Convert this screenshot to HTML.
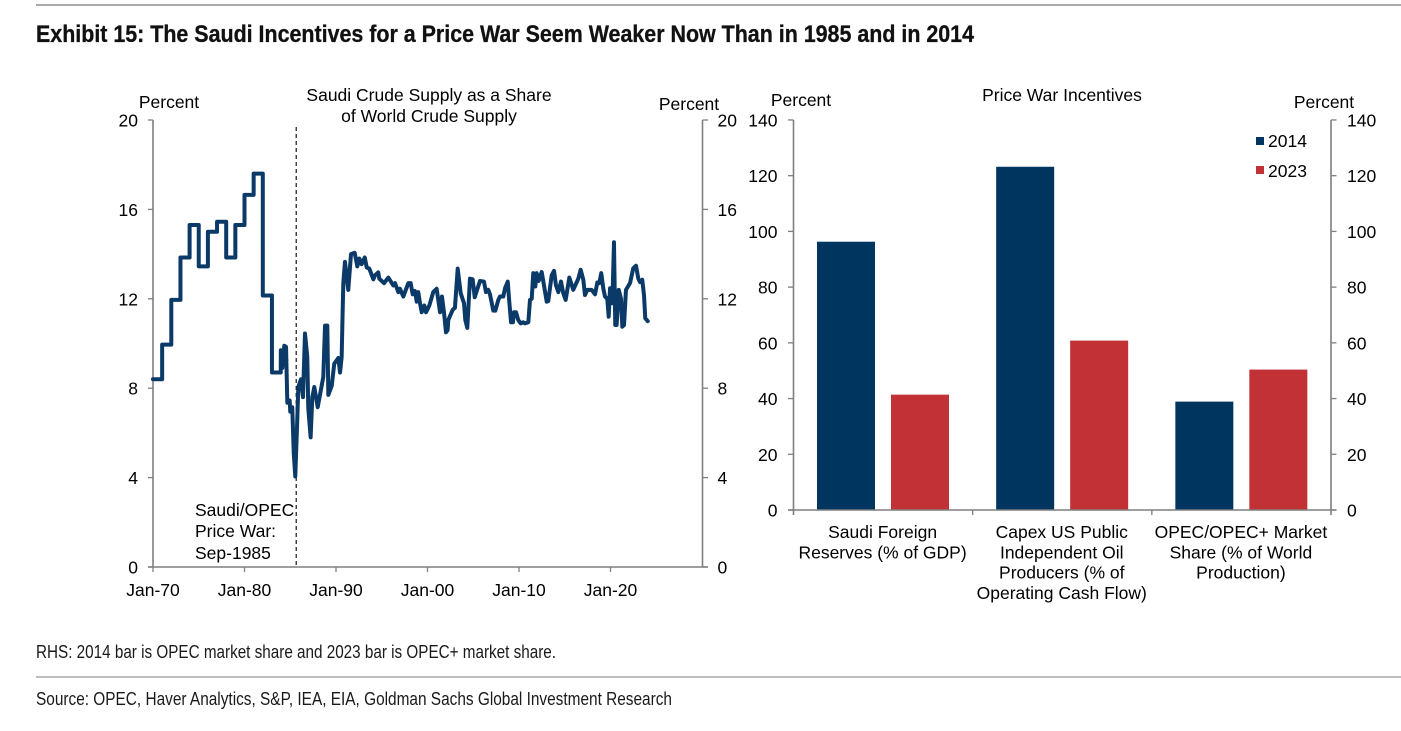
<!DOCTYPE html>
<html lang="en">
<head>
<meta charset="utf-8">
<title>Exhibit 15</title>
<style>
html,body{margin:0;padding:0;background:#fff;}
svg{display:block;}
text{font-family:"Liberation Sans",Arial,sans-serif;fill:#000;font-size:17.5px;}
.note{font-size:18px;fill:#1a1a1a;}
.title{font-size:24px;font-weight:bold;fill:#111;stroke:#111;stroke-width:0.3px;}
</style>
</head>
<body>
<svg id="page" xmlns="http://www.w3.org/2000/svg" width="1401" height="731" viewBox="0 0 1401 731">
  <rect x="36" y="4" width="1365" height="2" fill="#a9a9a9"/>
  <text class="title" x="36" y="42" textLength="938" lengthAdjust="spacingAndGlyphs">Exhibit 15: The Saudi Incentives for a Price War Seem Weaker Now Than in 1985 and in 2014</text>

  <g id="line-chart">
    <text x="169" y="108" text-anchor="middle">Percent</text>
    <text x="689" y="110" text-anchor="middle">Percent</text>
    <text x="429" y="101" text-anchor="middle">Saudi Crude Supply as a Share</text>
    <text x="429" y="122" text-anchor="middle">of World Crude Supply</text>
    <text x="195" y="516">Saudi/OPEC</text>
    <text x="195" y="537">Price War:</text>
    <text x="195" y="559">Sep-1985</text>
  </g>

  <g id="bar-chart">
    <text x="801" y="106" text-anchor="middle">Percent</text>
    <text x="1324" y="108" text-anchor="middle">Percent</text>
    <text x="1062" y="101" text-anchor="middle">Price War Incentives</text>
    <rect x="1256" y="137" width="8" height="8" fill="#003560"/>
    <text x="1268" y="147">2014</text>
    <rect x="1256" y="166" width="8" height="8" fill="#c23135"/>
    <text x="1268" y="177">2023</text>
  </g>

  <text class="note" x="36" y="658" textLength="520" lengthAdjust="spacingAndGlyphs">RHS: 2014 bar is OPEC market share and 2023 bar is OPEC+ market share.</text>
  <rect x="36" y="676" width="1365" height="2" fill="#bdbdbd"/>
  <text class="note" x="36" y="705" textLength="636" lengthAdjust="spacingAndGlyphs">Source: OPEC, Haver Analytics, S&amp;P, IEA, EIA, Goldman Sachs Global Investment Research</text>
</svg>
<script>
// ---- line chart data ----
const stepYears = [1970,1971,1972,1973,1974,1975,1976,1977,1978,1979,1980,1981,1982,1983];
const stepValues = [8.4,9.95,11.95,13.85,15.3,13.45,15.0,15.45,13.85,15.3,16.65,17.6,12.15,8.7];
const detailYears = [
1983.96,1983.97,1984.13,1984.35,1984.54,1984.68,1984.94,1985.0,1985.22,1985.38,
1985.55,1985.74,1985.88,1986.17,1986.39,1986.61,1986.86,1986.97,1987.23,1987.41,
1987.63,1988.0,1988.61,1988.8,1989.05,1989.16,1989.53,1989.81,1990.25,1990.44,
1990.62,1990.73,1990.8,1990.98,1991.34,1991.64,1992.04,1992.33,1992.55,1992.81,
1993.14,1993.36,1993.64,1994.08,1994.26,1994.62,1994.73,1995.25,1995.72,1996.26,
1996.45,1996.81,1996.99,1997.36,1997.9,1998.16,1998.38,1998.63,1998.82,1998.99,
1999.18,1999.37,1999.65,1999.84,2000.2,2000.63,2001.0,2001.37,2001.58,2001.8,
2002.02,2002.2,2002.27,2002.75,2003.0,2003.3,2003.63,2003.99,2004.13,2004.35,
2004.64,2004.94,2005.16,2005.74,2006.17,2006.39,2006.64,2006.83,2007.19,2007.41,
2007.74,2007.92,2008.28,2008.47,2008.77,2008.91,2009.13,2009.34,2009.45,2009.67,
2009.92,2010.19,2010.47,2010.66,2011.02,2011.2,2011.39,2011.56,2011.78,2011.93,
2012.15,2012.48,2012.73,2013.03,2013.2,2013.57,2013.83,2014.04,2014.3,2014.59,
2014.84,2015.1,2015.5,2015.93,2016.48,2016.74,2017.03,2017.21,2017.46,2017.94,
2018.31,2018.56,2018.77,2018.99,2019.21,2019.4,2019.65,2019.8,2019.95,2020.2,
2020.38,2020.52,2020.67,2020.9,2021.15,2021.29,2021.48,2021.69,2022.13,2022.49,
2022.79,2023.04,2023.22,2023.47,2023.66,2023.8,2024.07];
const detailValues = [
8.72,9.7,8.9,9.9,9.85,7.35,7.45,6.95,7.15,5.1,
4.05,6.25,8.05,8.4,7.6,10.45,9.4,7.1,5.8,7.6,
8.05,7.15,8.5,10.8,10.8,7.7,8.1,9.1,9.35,8.7,
9.4,11.5,12.7,13.65,12.4,14.0,14.06,13.45,13.8,13.55,
13.85,13.4,13.35,12.87,13.05,13.18,12.9,12.7,12.95,12.6,
12.7,12.3,12.45,12.1,12.7,12.7,12.2,12.35,11.87,12.3,
11.8,11.4,11.7,11.4,11.7,12.3,12.45,11.4,12.1,11.4,
10.5,10.6,11.05,11.5,11.6,13.35,12.25,11.8,11.05,10.7,
12.9,12.87,12.07,12.8,12.77,12.3,12.4,12.2,11.47,11.47,
11.95,12.1,12.1,12.47,12.77,12.0,10.95,10.95,11.4,11.4,
11.05,10.9,10.95,10.9,10.95,11.95,12.0,13.15,12.55,13.15,
12.8,13.2,12.6,11.87,11.9,13.05,13.25,12.6,12.3,12.77,
12.25,11.95,12.95,12.4,12.9,13.3,12.85,12.17,12.4,12.4,
12.2,12.73,12.7,13.15,12.47,12.1,12.0,11.2,12.47,11.8,
14.53,10.83,10.83,12.4,12.0,10.75,10.83,12.4,12.7,13.37,
13.48,12.9,12.75,12.85,12.17,11.13,11.0];
const lineYTicks = [0,4,8,12,16,20];
const lineXTickYears = [1970,1980,1990,2000,2010,2020];
const lineXTickLabels = ['Jan-70','Jan-80','Jan-90','Jan-00','Jan-10','Jan-20'];
const priceWarYear = 1985.65;

// ---- bar chart data ----
const barCategories = [
  ['Saudi Foreign','Reserves (% of GDP)'],
  ['Capex US Public','Independent Oil','Producers (% of','Operating Cash Flow)'],
  ['OPEC/OPEC+ Market','Share (% of World','Production)']
];
const values2014 = [96.3,123.2,38.9];
const values2023 = [41.4,60.8,50.4];
const barYTicks = [0,20,40,60,80,100,120,140];

const NS = 'http://www.w3.org/2000/svg';
function mk(parent, tag, attrs, txt){
  const e = document.createElementNS(NS, tag);
  for (const k in attrs) e.setAttribute(k, attrs[k]);
  if (txt !== undefined) e.textContent = txt;
  parent.appendChild(e);
  return e;
}
const AXIS = '#7f7f7f';

// ---- line chart ----
const lg = document.getElementById('line-chart');
const xL = y => 153 + (y - 1970) * 9.15;
const yL = v => 567 - v * 22.35;
const lineRight = 702.5;

const lAxisL = mk(lg,'line',{x1:153,x2:153,y1:yL(20),y2:yL(0),stroke:AXIS,'stroke-width':1.6});


const lAxisR = mk(lg,'line',{x1:lineRight,x2:lineRight,y1:yL(20),y2:yL(0),stroke:AXIS,'stroke-width':1.6});


const lAxisX = mk(lg,'line',{x1:148,x2:lineRight+5.5,y1:yL(0),y2:yL(0),stroke:AXIS,'stroke-width':1.6});



lineYTicks.forEach(v => {
  const t1 = mk(lg,'line',{x1:148,x2:153,y1:yL(v),y2:yL(v),stroke:AXIS,'stroke-width':1.3});
  
  
  const t2 = mk(lg,'line',{x1:lineRight,x2:lineRight+5.5,y1:yL(v),y2:yL(v),stroke:AXIS,'stroke-width':1.3});
  
  
  const l1 = mk(lg,'text',{x:138,y:yL(v)+6.5,'text-anchor':'end'},String(v));
  
  
  const l2 = mk(lg,'text',{x:717.5,y:yL(v)+6.5},String(v));
  
  
});
lineXTickYears.forEach((yr,i) => {
  const t = mk(lg,'line',{x1:xL(yr),x2:xL(yr),y1:yL(0),y2:yL(0)+5,stroke:AXIS,'stroke-width':1.3});
  
  
  const l = mk(lg,'text',{x:xL(yr),y:596,'text-anchor':'middle'},lineXTickLabels[i]);
  
  
});

const dash = mk(lg,'line',{x1:xL(priceWarYear),x2:xL(priceWarYear),y1:127,y2:yL(0),stroke:'#000','stroke-width':1.1,'stroke-dasharray':'4 3'});



let pts = [];
stepYears.forEach((yr,i) => {
  pts.push([xL(yr), yL(stepValues[i])]);
  const nextYear = i + 1 < stepYears.length ? stepYears[i+1] : detailYears[0];
  pts.push([xL(nextYear), yL(stepValues[i])]);
});
detailYears.forEach((yr,i) => pts.push([xL(yr), yL(detailValues[i])]));
const linePath = mk(lg,'polyline',{points:pts.map(p=>p[0].toFixed(2)+','+p[1].toFixed(2)).join(' '),fill:'none',stroke:'#0b3a68','stroke-width':4,'stroke-linejoin':'round','stroke-linecap':'round'});



// ---- bar chart ----
const bg = document.getElementById('bar-chart');
const barLeft = 793.5, barRight = 1331;
const yB = v => 510 - v * 2.786;
const catW = (barRight - barLeft) / barCategories.length;
const barW = 58, barOffA = 23.5, barOffB = 97.5;

const bAxisL = mk(bg,'line',{x1:barLeft,x2:barLeft,y1:yB(140),y2:yB(0)+5,stroke:AXIS,'stroke-width':1.6});


const bAxisR = mk(bg,'line',{x1:barRight,x2:barRight,y1:yB(140),y2:yB(0)+5,stroke:AXIS,'stroke-width':1.6});



barYTicks.forEach(v => {
  const t1 = mk(bg,'line',{x1:barLeft-5.5,x2:barLeft,y1:yB(v),y2:yB(v),stroke:AXIS,'stroke-width':1.3});
  
  
  const t2 = mk(bg,'line',{x1:barRight,x2:barRight+5.5,y1:yB(v),y2:yB(v),stroke:AXIS,'stroke-width':1.3});
  
  
  const l1 = mk(bg,'text',{x:777.5,y:yB(v)+6.5,'text-anchor':'end'},String(v));
  
  
  const l2 = mk(bg,'text',{x:1347,y:yB(v)+6.5},String(v));
  
  
});

barCategories.forEach((lines,i) => {
  const x0 = barLeft + i * catW;
  const a = mk(bg,'rect',{x:x0+barOffA,y:yB(values2014[i]),width:barW,height:yB(0)-yB(values2014[i]),fill:'#003560'});
  
  
  const b = mk(bg,'rect',{x:x0+barOffB,y:yB(values2023[i]),width:barW,height:yB(0)-yB(values2023[i]),fill:'#c23135'});
  
  
  if (i > 0) {
    const t = mk(bg,'line',{x1:x0,x2:x0,y1:yB(0),y2:yB(0)+5,stroke:AXIS,'stroke-width':1.3});
    
    
  }
  lines.forEach((ln,j) => {
    const l = mk(bg,'text',{x:x0+catW/2-0.5,y:538+j*20.3,'text-anchor':'middle'},ln);
    
    
  });
});
const bAxisX = mk(bg,'line',{x1:barLeft-5.5,x2:barRight+5.5,y1:yB(0),y2:yB(0),stroke:AXIS,'stroke-width':1.6});


</script>
</body>
</html>
